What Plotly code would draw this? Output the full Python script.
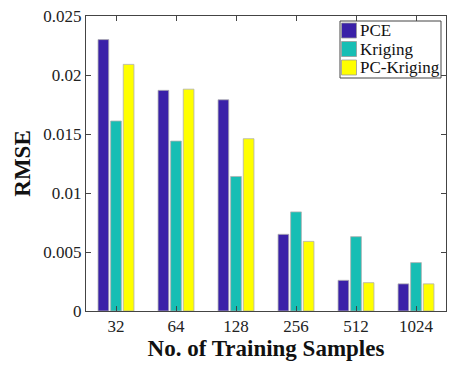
import plotly.graph_objects as go

categories = ["32", "64", "128", "256", "512", "1024"]
pce = [0.0230, 0.0187, 0.0179, 0.0065, 0.0026, 0.0023]
kriging = [0.0161, 0.0144, 0.0114, 0.0084, 0.0063, 0.0041]
pc_kriging = [0.0209, 0.0188, 0.0146, 0.0059, 0.0024, 0.0023]
series_names = ["PCE", "Kriging", "PC-Kriging"]
series_colors = ["#3A21A8", "#17BEB4", "#FFFF00"]
yticks = [0, 0.005, 0.01, 0.015, 0.02, 0.025]
yticklabels = ["0", "0.005", "0.01", "0.015", "0.02", "0.025"]

font = "Liberation Serif"
W, H = 450, 365
L, R, T, B = 86, 4, 16, 54
PW, PH = W - L - R, H - T - B


def px(x):
    return (x - L) / PW


def py(y):
    return (H - B - y) / PH


fig = go.Figure()
for name, vals, col in zip(series_names, [pce, kriging, pc_kriging], series_colors):
    fig.add_trace(go.Bar(x=categories, y=vals, name=name, showlegend=False,
                         marker=dict(color=col, line=dict(color="#B0B0B0", width=0.8))))

shapes = [dict(type="rect", xref="paper", yref="paper", x0=px(340), x1=px(441), y0=py(78), y1=py(21),
               line=dict(color="#444", width=1), fillcolor="white", layer="above")]
annotations = []
row_y = [30.5, 49, 67.5]
for name, col, yc in zip(series_names, series_colors, row_y):
    shapes.append(dict(type="rect", xref="paper", yref="paper", x0=px(341.5), x1=px(356.5),
                       y0=py(yc + 7.5), y1=py(yc - 7.5), line=dict(color="#999", width=0.8),
                       fillcolor=col, layer="above"))
    annotations.append(dict(text=name, xref="paper", yref="paper", x=px(358), y=py(yc), xanchor="left",
                            yanchor="middle", showarrow=False, font=dict(size=17, family=font, color="#111")))

fig.update_layout(
    width=W, height=H, margin=dict(l=L, r=R, t=T, b=B),
    plot_bgcolor="white", paper_bgcolor="white",
    barmode="group", bargap=0.37, bargroupgap=0.15,
    font=dict(family=font, color="#222", size=17),
    shapes=shapes, annotations=annotations,
)
fig.update_xaxes(type="category", range=[-0.5, 5.5], showline=True, linecolor="#444", linewidth=1, mirror="ticks",
                 ticks="inside", ticklen=5, tickcolor="#444",
                 title=dict(text="<b>No. of Training Samples</b>", font=dict(size=23, family=font, color="#111"), standoff=0),
                 tickfont=dict(size=17, family=font))
fig.update_yaxes(range=[0, 0.025], tickvals=yticks, ticktext=yticklabels, showline=True, linecolor="#444", linewidth=1,
                 mirror="ticks", ticks="inside", ticklen=5, tickcolor="#444", showgrid=False, zeroline=False,
                 title=dict(text="<b>RMSE</b>", font=dict(size=23, family=font, color="#111"), standoff=6),
                 tickfont=dict(size=17, family=font))
fig.write_html("out.html")
